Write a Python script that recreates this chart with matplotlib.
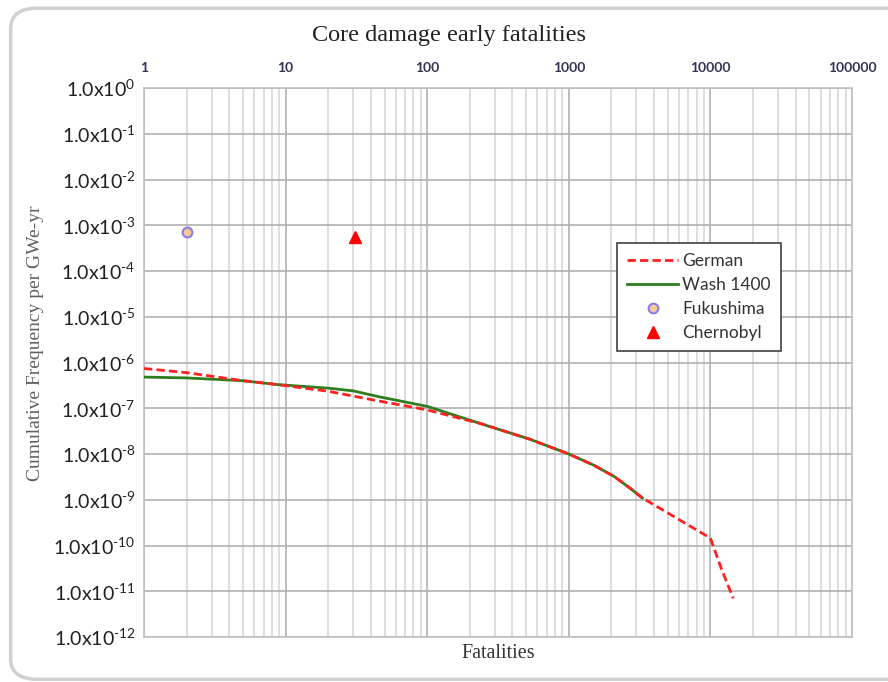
import matplotlib.pyplot as plt
from matplotlib.patches import FancyBboxPatch
from matplotlib.ticker import LogLocator, FixedLocator, NullFormatter

plt.rcParams['mathtext.fontset'] = 'custom'
plt.rcParams['mathtext.rm'] = 'Lato'
plt.rcParams['mathtext.it'] = 'Lato:italic'
plt.rcParams['mathtext.default'] = 'regular'

# German risk curve
german_x = [1, 2, 5, 8.7, 20, 45, 100, 178, 234, 532, 1000, 1500, 2100, 2700, 3300,
            10000, 12000, 14500]
german_y = [7.4e-7, 6.0e-7, 4.0e-7, 3.3e-7, 2.35e-7, 1.45e-7, 9.2e-8, 5.8e-8, 4.7e-8, 2.1e-8,
            1.0e-8, 5.7e-9, 3.2e-9, 1.8e-9, 1.1e-9, 1.45e-10, 3.0e-11, 7e-12]

# Wash 1400 risk curve
wash_x = [1, 2, 5, 8.7, 20, 30, 45, 100, 234, 532, 1000, 1500, 2100, 2700, 3300]
wash_y = [4.8e-7, 4.6e-7, 4.0e-7, 3.3e-7, 2.75e-7, 2.4e-7, 1.8e-7, 1.1e-7, 4.7e-8, 2.1e-8,
          1.0e-8, 5.7e-9, 3.2e-9, 1.8e-9, 1.1e-9]

fukushima = (2, 7e-4)
chernobyl = (31, 5.5e-4)

xticks = [1, 10, 100, 1000, 10000, 100000]
yexps = list(range(0, -13, -1))

fig = plt.figure(figsize=(8.88, 6.82), dpi=100, facecolor='white')
border = FancyBboxPatch((0.012, 0.004), 1.1, 0.984, boxstyle='round,pad=0,rounding_size=0.03',
                        transform=fig.transFigure, fc='white', ec='#d0d0d0', lw=2.5, zorder=-5)
fig.patches.append(border)

ax = fig.add_axes([144 / 888, 1 - 637 / 682, 708 / 888, 549 / 682])
ax.set_xscale('log')
ax.set_yscale('log')
ax.set_xlim(1, 100000)
ax.set_ylim(1e-12, 1.0)

ax.plot(wash_x, wash_y, color='#2e7d1e', lw=2, label='Wash 1400', zorder=3)
ax.plot(german_x, german_y, color='#ff2020', lw=2, ls=(0, (3, 1.5)), label='German', zorder=4)
ax.plot(*fukushima, 'o', ms=7, mfc='#f8c79a', mec='#8080e8', mew=1.5, ls='none', label='Fukushima', zorder=5)
ax.plot(*chernobyl, '^', ms=8, color='#ff0000', ls='none', label='Chernobyl', zorder=5)

ax.xaxis.set_major_locator(FixedLocator(xticks))
ax.xaxis.set_minor_locator(LogLocator(base=10, subs=range(2, 10), numticks=20))
ax.xaxis.set_minor_formatter(NullFormatter())
ax.set_xticklabels([str(v) for v in xticks])
ax.xaxis.tick_top()
ax.tick_params(axis='x', which='both', length=0, pad=10, labelsize=10, labelcolor='#333355')
for lab in ax.get_xticklabels():
    lab.set_family('Lato')
    lab.set_weight('bold')

ax.yaxis.set_major_locator(FixedLocator([10.0 ** e for e in yexps]))
ax.yaxis.set_minor_locator(FixedLocator([]))
ax.set_yticklabels(['1.0x10$^{%s}$' % str(e).replace('-', '\u2010') for e in yexps])
ax.tick_params(axis='y', length=0, pad=6, labelsize=14, labelcolor='#202020')
for lab in ax.get_yticklabels():
    lab.set_family('Lato')

ax.grid(True, which='major', color='#b0b0b0', lw=1.2)
ax.grid(True, which='minor', axis='x', color='#d8d8d8', lw=1.2)
for s in ax.spines.values():
    s.set_color('#c0c0c0')
    s.set_linewidth(1.2)
ax.set_axisbelow(True)

h, l = ax.get_legend_handles_labels()
order = [1, 0, 2, 3]
leg = ax.legend([h[i] for i in order], [l[i] for i in order], loc='upper left',
                bbox_to_anchor=((617 - 144) / 708, (637 - 243) / 549), borderaxespad=0,
                fancybox=False, edgecolor='#404040', framealpha=1, handlelength=2.9,
                handletextpad=0.25, borderpad=0.6, labelspacing=0.45,
                prop={'family': 'Lato', 'size': 12.5})
leg.get_frame().set_linewidth(1.2)
for t in leg.get_texts():
    t.set_color('#333333')

fig.text(449 / 888, 1 - 35 / 682, 'Core damage early fatalities', ha='center', va='center',
         family='Liberation Serif', fontsize=17.5, color='#222222')
fig.text(498 / 888, 1 - 654 / 682, 'Fatalities', ha='center', va='center',
         family='Liberation Serif', fontsize=14.5, color='#333333')
fig.text(36 / 888, 1 - 343 / 682, 'Cumulative Frequency per GWe-yr', ha='center', va='center',
         rotation=90, family='Liberation Serif', fontsize=14, color='#606060')

fig.savefig('out.png', dpi=100)
